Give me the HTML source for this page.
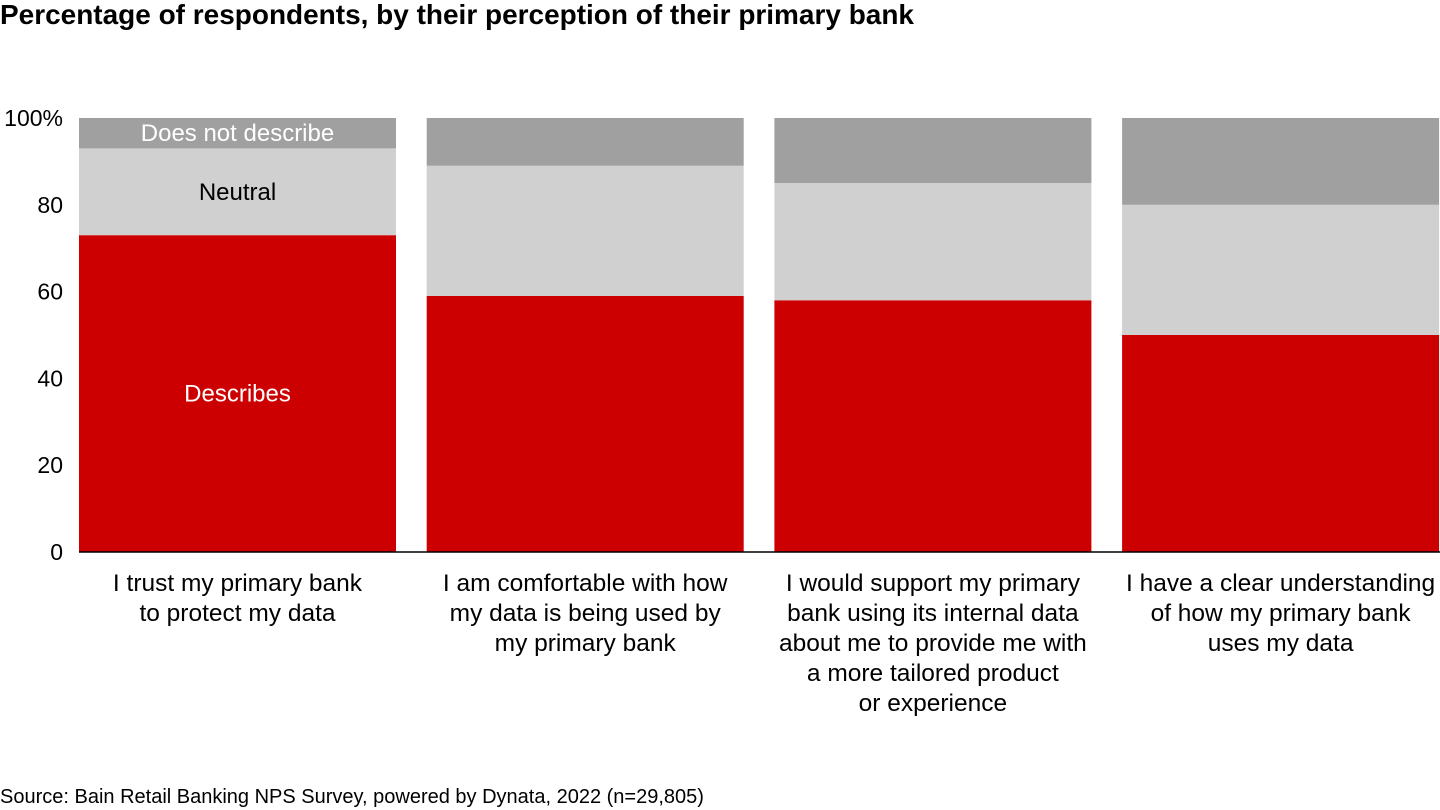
<!DOCTYPE html>
<html><head><meta charset="utf-8"><style>
html,body{margin:0;padding:0;background:#fff;width:1440px;height:810px;overflow:hidden;font-family:"Liberation Sans",Arial,sans-serif}
</style></head><body>
<svg id="chart" width="1440" height="810" xmlns="http://www.w3.org/2000/svg" font-family="Liberation Sans, Arial, sans-serif">
<text x="0" y="24" font-size="28" font-weight="bold" fill="#000" textLength="914" lengthAdjust="spacingAndGlyphs">Percentage of respondents, by their perception of their primary bank</text>
<g id="bars"></g><g id="yticks"></g><g id="xlabels"></g>
<line x1="79" y1="552" x2="1440" y2="552" stroke="#000" stroke-width="1.5"/>
<text x="0" y="803" font-size="20" fill="#000">Source: Bain Retail Banking NPS Survey, powered by Dynata, 2022 (n=29,805)</text>
</svg>
<script>
const categories=[["I trust my primary bank","to protect my data"],["I am comfortable with how","my data is being used by","my primary bank"],["I would support my primary","bank using its internal data","about me to provide me with","a more tailored product","or experience"],["I have a clear understanding","of how my primary bank","uses my data"]];
const describes=[73,59,58,50];
const neutral=[20,30,27,30];
const notDescribe=[7,11,15,20];
const yTicks=[0,20,40,60,80,100];
const yTickLabels=["0","20","40","60","80","100%"];
const NS="http://www.w3.org/2000/svg";
const y0=552,y100=118;
function y(v){return y0-(y0-y100)*v/100;}
const left=79,step=347.7,bw=317;
function bx(i){return left+i*step;}
function mk(tag,attrs,parent){const e=document.createElementNS(NS,tag);for(const k in attrs)e.setAttribute(k,attrs[k]);parent.appendChild(e);return e;}
const gb=document.getElementById('bars');
const series=[[describes,'#cc0000','describes'],[neutral,'#d0d0d0','neutral'],[notDescribe,'#a0a0a0','does-not-describe']];
categories.forEach((c,i)=>{
 let base=0;
 series.forEach(s=>{
  const v=s[0][i];
  const r=mk('rect',{x:bx(i),y:y(base+v),width:bw,height:y(base)-y(base+v),fill:s[1]},gb);
  
  
  base+=v;
 });
});
const segLabels=[["Describes",describes[0]/2,'#fff'],["Neutral",describes[0]+neutral[0]/2,'#000'],["Does not describe",describes[0]+neutral[0]+notDescribe[0]/2,'#fff']];
segLabels.forEach(l=>{
 const t=mk('text',{x:bx(0)+bw/2,y:y(l[1])+8,'font-size':24,'text-anchor':'middle',fill:l[2]},gb);
 t.textContent=l[0];
 
 
});
const gy=document.getElementById('yticks');
yTicks.forEach((v,i)=>{
 const t=mk('text',{x:63,y:y(v)+8,'font-size':23,'text-anchor':'end',fill:'#000'},gy);
 t.textContent=yTickLabels[i];
 
 
});
const gx=document.getElementById('xlabels');
categories.forEach((lines,i)=>{
 lines.forEach((ln,j)=>{
  const t=mk('text',{x:bx(i)+bw/2,y:591+j*30,'font-size':24.5,'text-anchor':'middle',fill:'#000'},gx);
  t.textContent=ln;
  
  
 });
});
</script>
</body></html>
